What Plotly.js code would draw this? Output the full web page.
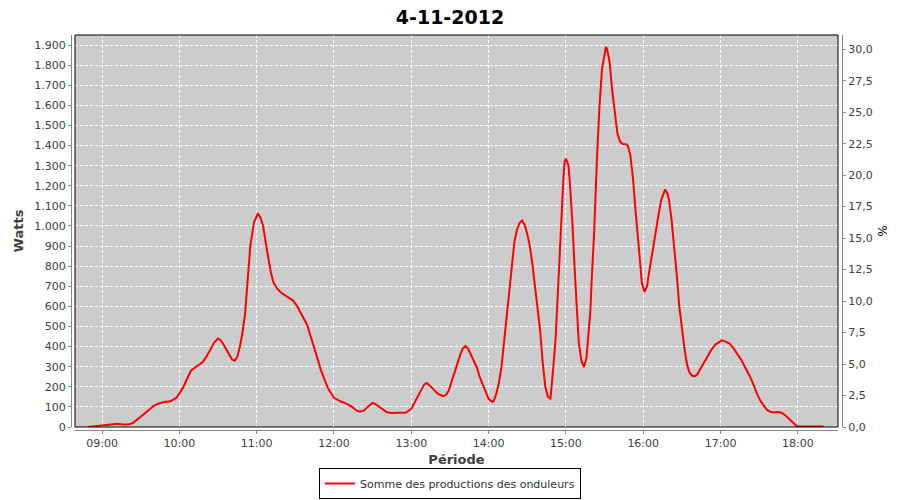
<!DOCTYPE html>
<html>
<head>
<meta charset="utf-8">
<script src="https://cdn.plot.ly/plotly-3.0.1.min.js"></script>
<style>
html,body{margin:0;padding:0;background:#ffffff;}
#chart{width:900px;height:500px;}
</style>
</head>
<body>
<div id="chart"></div>
<script>
// ---- data ----
const chartTitle = '4-11-2012';
const day = '2012-11-04';
const seriesName = 'Somme des productions des onduleurs';
const xTitle = 'Période';
const yTitle = 'Watts';
const y2Title = '%';

const times = [
 '08:49','08:53','09:00','09:05','09:09','09:12','09:16','09:20','09:24','09:28',
 '09:31','09:34','09:37','09:40','09:44','09:48','09:53','09:58','10:03','10:06',
 '10:09','10:13','10:18','10:21','10:24','10:27','10:30','10:32','10:34','10:38',
 '10:41','10:43','10:45','10:47','10:49','10:51','10:53','10:55','10:58','11:01',
 '11:03','11:05','11:08','11:11','11:13','11:16','11:19','11:22','11:25','11:28',
 '11:31','11:33','11:36','11:39','11:41','11:44','11:47','11:50','11:53','11:55',
 '11:58','12:00','12:05','12:10','12:14','12:18','12:20','12:23','12:26','12:28',
 '12:30','12:32','12:35','12:38','12:41','12:45','12:50','12:56','13:00','13:02',
 '13:04','13:06','13:08','13:10','13:12','13:14','13:16','13:19','13:21','13:25',
 '13:27','13:29','13:31','13:33','13:35','13:38','13:40','13:42','13:44','13:46',
 '13:48','13:51','13:53','13:56','13:58','14:00','14:03','14:04','14:06','14:08',
 '14:10','14:12','14:14','14:16','14:18','14:20','14:22','14:24','14:26','14:28',
 '14:30','14:32','14:34','14:36','14:38','14:40','14:42','14:44','14:46','14:48',
 '14:50','14:52','14:54','14:56','14:58','14:59','15:00','15:01','15:02','15:03',
 '15:05','15:07','15:08','15:10','15:12','15:14','15:16','15:18','15:19','15:20',
 '15:22','15:24','15:26','15:28','15:30','15:31','15:32','15:34','15:36','15:38',
 '15:40','15:42','15:44','15:47','15:48','15:50','15:52','15:54','15:56','15:58',
 '15:59','16:01','16:03','16:04','16:06','16:08','16:10','16:12','16:14','16:16',
 '16:17','16:19','16:20','16:22','16:24','16:26','16:28','16:30','16:32','16:34',
 '16:36','16:38','16:40','16:42','16:44','16:47','16:50','16:53','16:56','16:59',
 '17:01','17:04','17:07','17:10','17:13','17:16','17:18','17:21','17:23','17:26',
 '17:28','17:31','17:34','17:36','17:39','17:42','17:44','17:47','17:50','17:53',
 '17:56','17:59','18:00','18:05','18:10','18:15','18:17','18:20'
];
const watts = [
 0,3,8,13,17,16,13,12,20,40,
 55,72,88,105,117,124,128,147,197,240,
 280,300,322,350,385,420,440,432,413,370,
 335,330,350,400,470,563,730,897,1020,1062,
 1040,1000,880,770,720,688,668,655,645,630,
 605,580,548,510,470,413,345,280,230,197,
 165,145,128,115,100,80,77,80,100,112,
 120,115,100,85,73,70,70,72,90,115,
 141,170,191,212,219,208,196,175,163,153,
 160,180,220,260,310,360,390,403,390,365,
 335,295,250,205,170,140,125,130,166,220,
 299,430,560,690,805,920,980,1015,1028,1005,
 960,900,810,690,580,480,320,200,150,142,
 280,440,700,1000,1230,1320,1335,1320,1300,1220,
 1020,760,620,420,330,298,345,480,580,730,
 980,1320,1590,1780,1870,1890,1880,1810,1670,1560,
 1460,1420,1408,1406,1400,1352,1240,1080,930,800,
 715,672,700,746,830,912,990,1061,1130,1170,
 1182,1160,1130,1030,910,760,600,490,390,310,
 270,255,252,262,282,318,352,385,410,425,
 431,425,415,392,365,335,310,275,249,205,
 170,130,100,85,75,72,75,72,60,41,
 22,5,2,2,3,5,3,2
];
const wattTicksStep = 100;
const percentTicksStep = 2.5;
const wattRange = [0, 1950];
const percentRange = [0, 31.13];
const timeRange = ['08:39:00', '18:31:10'];

// ---- chart ----
const x = times.map(t => day + ' ' + t);
const FONT = 'DejaVu Sans, Verdana, sans-serif';
const W = 900, H = 500;
const padL = 71, padR = 58, padT = 35, padB = 70;
const paperW = W - padL - padR, paperH = H - padT - padB;

const traces = [
  {
    type: 'scatter', mode: 'lines', name: seriesName,
    x: x, y: watts,
    line: {color: '#ff0000', width: 2},
    hoverinfo: 'skip'
  },
  {
    type: 'scatter', mode: 'lines', x: [], y: [], yaxis: 'y2',
    showlegend: false, hoverinfo: 'skip'
  }
];

const tickFont = {family: FONT, size: 11, color: '#404040'};
const gridDash = '3px,2px';

const layout = {
  width: W, height: H,
  margin: {l: padL, r: padR, t: padT, b: padB, pad: 0},
  paper_bgcolor: '#ffffff',
  plot_bgcolor: '#cccccc',
  separators: ',.',
  showlegend: true,
  title: {
    text: chartTitle,
    font: {family: FONT, size: 19, color: '#000000', weight: 'bold'},
    x: 0.5, xref: 'container', xanchor: 'center',
    y: 1 - 17 / H, yref: 'container', yanchor: 'middle'
  },
  xaxis: {
    type: 'date',
    domain: [4 / paperW, (paperW - 4) / paperW],
    anchor: 'free', position: 0,
    range: timeRange.map(t => day + ' ' + t),
    tick0: day + ' 09:00', dtick: 3600000, tickformat: '%H:%M',
    showline: true, linecolor: '#888888', linewidth: 1,
    ticks: 'outside', ticklen: 3, tickcolor: '#888888', tickwidth: 1,
    showgrid: true, gridcolor: '#ffffff', gridwidth: 1, griddash: gridDash,
    zeroline: false,
    tickfont: tickFont,
    title: {text: xTitle, font: {family: FONT, size: 13, color: '#404040', weight: 'bold'}, standoff: 5},
    automargin: false, fixedrange: true
  },
  yaxis: {
    domain: [3 / paperH, 1],
    anchor: 'free', position: 0,
    range: wattRange, dtick: wattTicksStep, tick0: 0, tickformat: ',d',
    showline: true, linecolor: '#888888', linewidth: 1,
    ticks: 'outside', ticklen: 3, tickcolor: '#888888', tickwidth: 1,
    showgrid: true, gridcolor: '#ffffff', gridwidth: 1, griddash: gridDash,
    zeroline: false,
    tickfont: tickFont,
    title: {text: yTitle, font: {family: FONT, size: 13, color: '#404040', weight: 'bold'}, standoff: 6},
    automargin: false, fixedrange: true
  },
  yaxis2: {
    overlaying: 'y', side: 'right',
    anchor: 'free', position: 1,
    range: percentRange, dtick: percentTicksStep, tick0: 0, tickformat: '.1f',
    showline: true, linecolor: '#888888', linewidth: 1,
    ticks: 'outside', ticklen: 3, tickcolor: '#888888', tickwidth: 1,
    showgrid: false, zeroline: false,
    tickfont: tickFont,
    title: {text: y2Title, font: {family: FONT, size: 12, color: '#000000'}, standoff: 6},
    automargin: false, fixedrange: true
  },
  shapes: [
    {type: 'rect', xref: 'x domain', yref: 'y domain', x0: 0, x1: 1, y0: 0, y1: 1,
     line: {color: '#000000', width: 1}, fillcolor: 'rgba(0,0,0,0)', layer: 'above'}
  ],
  legend: {
    orientation: 'h',
    x: 0.5, xref: 'container', xanchor: 'center',
    y: 1 - 499 / H, yref: 'container', yanchor: 'bottom',
    bordercolor: '#000000', borderwidth: 1, bgcolor: '#ffffff',
    font: {family: FONT, size: 11, color: '#333333'},
    itemwidth: 30, tracegroupgap: 0
  }
};

Plotly.newPlot('chart', traces, layout, {displayModeBar: false, staticPlot: true, responsive: false});
</script>
</body>
</html>
